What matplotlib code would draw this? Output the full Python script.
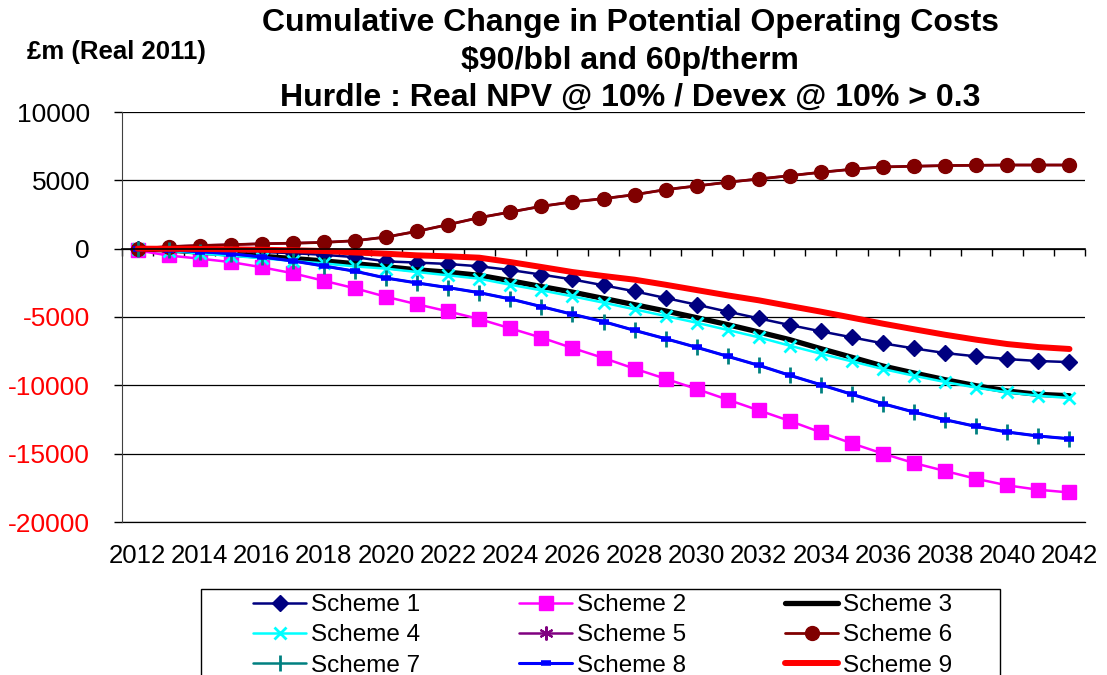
import numpy as np
import matplotlib
matplotlib.use("Agg")
import matplotlib.pyplot as plt
from matplotlib.patches import Rectangle

plt.rcParams['font.family'] = ['Liberation Sans', 'DejaVu Sans']

years = list(range(2012, 2043))

scheme1 = [0, -50, -120, -170, -240, -330, -450, -620, -930, -1020, -1120, -1290,
           -1560, -1900, -2250, -2680, -3120, -3610, -4100, -4610, -5100, -5590,
           -6050, -6490, -6930, -7300, -7640, -7880, -8080, -8220, -8300]
scheme2 = [-130, -500, -730, -980, -1360, -1800, -2350, -2900, -3520, -4070, -4590,
           -5150, -5830, -6510, -7270, -8000, -8780, -9520, -10270, -11050, -11830,
           -12610, -13440, -14250, -15000, -15690, -16270, -16840, -17320, -17640,
           -17840]
scheme3 = [0, -100, -250, -400, -560, -720, -900, -1100, -1320, -1550, -1720, -1950,
           -2350, -2770, -3180, -3640, -4100, -4560, -5050, -5560, -6100, -6660,
           -7320, -7950, -8590, -9100, -9590, -10030, -10420, -10660, -10760]
scheme4 = [0, -150, -350, -520, -700, -900, -1080, -1300, -1460, -1710, -1950, -2200,
           -2640, -3050, -3490, -3950, -4440, -4930, -5420, -5950, -6490, -7100,
           -7690, -8250, -8810, -9300, -9760, -10170, -10520, -10760, -10930]
scheme6 = [0, 150, 230, 290, 360, 400, 460, 580, 850, 1270, 1760, 2270, 2680, 3100,
           3420, 3660, 3950, 4320, 4590, 4860, 5100, 5340, 5590, 5810, 5980, 6030,
           6080, 6100, 6120, 6120, 6120]
scheme5 = list(scheme6)
scheme8 = [0, -100, -220, -370, -610, -900, -1270, -1650, -2150, -2510, -2850, -3220,
           -3680, -4240, -4800, -5340, -5980, -6590, -7220, -7880, -8540, -9270,
           -9960, -10660, -11350, -11960, -12520, -13010, -13420, -13710, -13910]
scheme7 = list(scheme8)
scheme9 = [0, -10, -20, -50, -80, -120, -170, -280, -370, -490, -560, -660, -980,
           -1340, -1710, -2000, -2270, -2640, -3030, -3420, -3780, -4200, -4610,
           -5050, -5490, -5900, -6300, -6660, -6980, -7200, -7340]

labels = ["Scheme %d" % i for i in range(1, 10)]
y_ticks = [10000, 5000, 0, -5000, -10000, -15000, -20000]

W, H = 1107, 675
fig = plt.figure(figsize=(W / 100, H / 100), dpi=100)
ax = fig.add_axes([122 / W, 1 - 522 / H, (1085 - 122) / W, (522 - 112) / H])

x = np.arange(len(years))

styles = [
    (scheme1, dict(color='#000080', lw=1.8, marker='D', ms=8, mfc='#000080', mec='#000080')),
    (scheme2, dict(color='#FF00FF', lw=1.8, marker='s', ms=10, mfc='#FF00FF', mec='#FF00FF')),
    (scheme3, dict(color='black', lw=3.8, marker=None)),
    (scheme4, dict(color='#00FFFF', lw=1.8, marker='x', ms=9, mew=2, mec='#00FFFF')),
    (scheme5, dict(color='#800080', lw=1.8, marker=(6, 2, 0), ms=10, mew=1.5, mec='#800080')),
    (scheme6, dict(color='#800000', lw=2.0, marker='o', ms=10, mfc='#800000', mec='#800000')),
    (scheme7, dict(color='#008080', lw=1.8, marker='|', ms=11, mew=2, mec='#008080')),
    (scheme8, dict(color='#0000FF', lw=2.2, marker='_', ms=7, mew=4, mec='#0000FF')),
    (scheme9, dict(color='#FF0000', lw=4.3, marker=None)),
]

handles = []
for (vals, st), lab in zip(styles, labels):
    h, = ax.plot(x, vals, label=lab, solid_capstyle='round', clip_on=False, **st)
    handles.append(h)

ax.set_xlim(-0.5, len(years) - 0.5)
ax.set_ylim(-20000, 10000)

# y axis
ax.set_yticks(y_ticks)
ax.set_yticklabels([str(v) for v in y_ticks], fontsize=19)
for t, v in zip(ax.get_yticklabels(), y_ticks):
    t.set_color('red' if v < 0 else 'black')
ax.tick_params(axis='y', direction='out', length=6, width=1, pad=17)
ax.yaxis.grid(True, color='black', lw=0.9)
ax.set_axisbelow(True)

# category axis crossing at zero, ticks between categories
ax.spines['bottom'].set_position(('data', 0))
ax.spines['bottom'].set_color('black')
ax.spines['bottom'].set_linewidth(1.2)
ax.spines['top'].set_visible(False)
ax.spines['right'].set_visible(False)
ax.spines['left'].set_color('#404040')
ax.set_xticks(np.arange(-0.5, len(years), 1.0))
ax.tick_params(axis='x', direction='out', length=5, width=1, labelbottom=False)

# year labels along the bottom edge
sec = ax.secondary_xaxis('bottom')
sec.set_xticks(x[::2])
sec.set_xticklabels([str(y) for y in years[::2]], fontsize=18.5)
sec.tick_params(axis='x', length=0, pad=16)
sec.spines['bottom'].set_color('black')
sec.spines['bottom'].set_linewidth(0.9)

# titles
title_lines = ["Cumulative Change in Potential Operating Costs",
               "$90/bbl and 60p/therm",
               "Hurdle : Real NPV @ 10% / Devex @ 10% > 0.3"]
for line, yp in zip(title_lines, [23, 61, 98]):
    fig.text(630 / W, 1 - yp / H, line, ha='center', va='center',
             fontsize=23, fontweight='bold')
fig.text(116 / W, 1 - 52 / H, "£m (Real 2011)", ha='center', va='center',
         fontsize=18.5, fontweight='bold')

# legend, laid out row by row
order = [0, 3, 6, 1, 4, 7, 2, 5, 8]
leg = fig.legend([handles[i] for i in order], [labels[i] for i in order],
                 ncol=3, loc='upper left', bbox_to_anchor=(253 / W, 1 - 594 / H),
                 frameon=False, fontsize=17.5, borderpad=0, borderaxespad=0,
                 handlelength=2.2, handletextpad=0.2, columnspacing=4.05,
                 labelspacing=0.34)
fig.patches.append(Rectangle((201 / W, -0.05), (1000 - 201) / W, (1 - 589 / H) + 0.05,
                             transform=fig.transFigure, fill=False,
                             edgecolor='black', lw=1.0))

fig.savefig("out.png", dpi=100)
